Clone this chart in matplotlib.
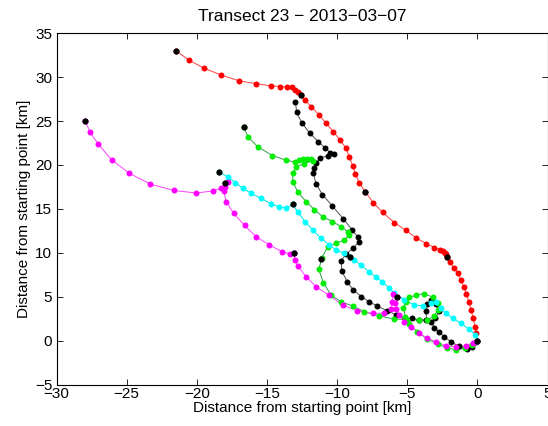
import matplotlib as mpl
import matplotlib.pyplot as plt

mpl.use('Agg')

plt.rcParams['font.family'] = ['Liberation Sans', 'DejaVu Sans']

# trajectories in km from the starting point (far end first)
red_x = [-21.48, -20.58, -19.46, -18.27, -17.01, -15.77, -14.70, -14.04, -13.54, -13.22,
         -12.97, -12.79, -12.57, -12.26, -11.85, -11.31, -10.78, -10.26, -9.79, -9.36,
         -9.12, -8.89, -8.70, -8.41, -8.00, -7.41, -6.75, -5.92, -5.08, -4.35,
         -3.64, -3.06, -2.64, -2.42, -2.32, -2.25, -2.16, -1.92, -1.67, -1.40,
         -1.18, -0.96, -0.78, -0.61, -0.45, -0.29, -0.18, -0.07, 0.0]
red_y = [33.02, 31.96, 31.01, 30.25, 29.60, 29.26, 29.00, 28.94, 28.88, 28.83,
         28.54, 28.26, 27.97, 27.35, 26.64, 25.75, 24.75, 23.79, 22.85, 21.90,
         20.88, 19.94, 18.97, 17.95, 16.96, 15.71, 14.59, 13.45, 12.54, 11.69,
         11.04, 10.60, 10.35, 10.20, 10.03, 9.81, 9.52, 8.90, 8.27, 7.67,
         6.90, 6.10, 5.31, 4.43, 3.49, 2.54, 1.58, 0.81, 0.0]

black_x = [-12.97, -12.88, -12.49, -11.94, -11.33, -10.83, -10.48, -10.19, -10.62, -11.19,
           -11.50, -11.62, -11.69, -11.51, -11.05, -10.33, -9.55, -8.91, -8.52, -8.41,
           -8.87, -9.34, -9.71, -9.66, -9.27, -8.84, -8.27, -7.70, -7.13, -6.41,
           -5.77, -5.13, -4.63, -4.13, -3.64, -3.64, -3.56, -3.28, -2.92, -2.71,
           -2.99, -3.28, -3.06, -2.71, -2.35, -1.85, -1.28, -0.71, -0.36, -0.07, 0.0]
black_y = [27.21, 25.98, 24.75, 23.61, 22.65, 21.90, 21.42, 21.20, 21.08, 20.80,
           20.26, 19.71, 19.12, 17.89, 16.64, 15.33, 13.85, 12.60, 11.80, 11.26,
           10.51, 9.86, 9.12, 7.93, 6.67, 5.76, 5.02, 4.40, 3.94, 3.37,
           2.92, 2.57, 2.52, 2.35, 2.35, 3.37, 4.17, 4.57, 4.17, 3.37,
           2.57, 2.12, 1.44, 0.98, 0.41, -0.16, -0.67, -0.90, -0.73, -0.16, 0.0]

green_x = [-16.66, -16.32, -15.66, -14.61, -13.63, -12.97, -12.69, -12.40, -12.12, -11.83,
           -11.74, -12.33, -12.92, -13.16, -13.16, -12.81, -12.19, -11.62, -11.03, -10.33,
           -9.71, -9.24, -9.12, -9.48, -10.05, -10.67, -11.08, -11.30, -10.98, -10.43,
           -9.71, -8.89, -8.05, -6.98, -5.92, -4.99, -4.13, -3.56, -3.06, -2.82,
           -2.82, -3.14, -3.78, -4.35, -4.85, -5.10, -5.27, -5.13, -4.85, -4.28,
           -3.56, -2.78, -2.14, -1.50, -0.86, -0.36, 0.0]
green_y = [24.29, 23.15, 22.08, 21.08, 20.54, 20.34, 20.57, 20.68, 20.74, 20.74,
           20.46, 20.17, 19.80, 19.05, 18.10, 16.96, 15.79, 14.93, 14.11, 13.56,
           12.97, 12.40, 12.03, 11.46, 11.08, 10.66, 9.46, 8.10, 6.59, 5.19,
           4.43, 3.94, 3.29, 2.80, 2.46, 2.40, 2.35, 2.35, 2.80, 3.49,
           4.23, 4.91, 5.36, 5.19, 4.91, 4.40, 3.71, 2.74, 1.89, 0.98,
           0.18, -0.44, -0.84, -1.07, -0.84, -0.50, 0.0]

cyan_x = [-18.39, -17.80, -17.25, -16.71, -16.13, -15.42, -14.70, -14.11, -13.63, -13.16,
          -12.81, -12.26, -11.74, -11.14, -10.55, -10.07, -9.48, -9.05, -8.77, -8.29,
          -7.70, -7.20, -6.77, -6.27, -5.92, -5.20, -4.49, -3.90, -3.30, -2.92,
          -2.59, -2.23, -1.76, -1.16, -0.57, -0.14, 0.0]
cyan_y = [19.20, 18.67, 17.98, 17.35, 16.78, 16.21, 15.56, 15.25, 15.07, 15.52,
          14.65, 13.51, 12.60, 11.65, 10.89, 10.32, 9.94, 9.56, 9.18, 8.61,
          7.81, 7.24, 6.67, 5.99, 5.39, 4.62, 4.05, 3.97, 4.25, 4.40,
          3.68, 3.11, 2.54, 1.97, 1.29, 0.64, 0.0]

magenta_x = [-27.94, -27.60, -27.01, -26.06, -24.80, -23.33, -21.65, -20.05, -18.87, -18.27,
             -17.96, -17.75, -17.96, -18.07, -17.91, -17.37, -16.59, -15.77, -14.83, -13.92,
             -13.35, -13.09, -12.99, -12.81, -12.21, -11.50, -10.55, -9.60, -8.55, -7.46,
             -6.63, -6.13, -6.06, -5.99, -5.70, -5.84, -5.77, -5.56, -5.20, -4.73,
             -4.13, -3.56, -2.92, -2.21, -1.50, -0.78, -0.33, 0.0]
magenta_y = [25.01, 23.72, 22.36, 20.57, 19.05, 17.84, 17.10, 16.81, 17.04, 17.35,
             17.92, 18.06, 17.55, 17.04, 15.82, 14.50, 13.11, 11.83, 10.89, 10.13,
             9.86, 9.94, 9.18, 8.50, 7.28, 6.14, 5.14, 4.05, 3.37, 3.09,
             3.14, 3.60, 4.45, 5.31, 5.00, 4.28, 3.60, 2.92, 2.15, 1.58,
             0.83, 0.26, -0.16, -0.61, -0.73, -0.56, -0.22, 0.0]

# hourly positions (black dots on the coloured tracks)
hour_x = [-21.48, -12.57, -8.00, -2.16, -16.66, -11.14, -18.39, -13.16, -9.05,
          -27.94, -17.96, -13.09, -5.70, 0.0]
hour_y = [33.02, 27.97, 16.96, 9.52, 24.29, 9.27, 19.20, 15.52, 9.56,
          25.01, 17.92, 9.94, 5.00, 0.0]

fig = plt.figure(figsize=(5.48, 4.26), dpi=100)
ax = fig.add_axes([56.5 / 548, 41.5 / 426, 491 / 548, 351.2 / 426])

tracks = [
    (red_x, red_y, '#ff4040', '#ff0000'),
    (black_x, black_y, '#505050', '#000000'),
    (green_x, green_y, '#2e9e4a', '#00ee00'),
    (cyan_x, cyan_y, '#00e0e0', '#00ffff'),
    (magenta_x, magenta_y, '#ff40ff', '#ff00ff'),
]
for tx, ty, lc, mc in tracks:
    ax.plot(tx, ty, '-', color=lc, lw=0.7, zorder=2)
    ax.plot(tx, ty, 'o', color=mc, ms=4.3, mew=0, zorder=3)

ax.plot(hour_x, hour_y, 'o', color='k', ms=4.5, mew=0, zorder=4)

ax.set_xlim(-30, 5)
ax.set_ylim(-5, 35)
ax.set_xticks(range(-30, 6, 5))
ax.set_yticks(range(-5, 36, 5))
ax.tick_params(direction='in', top=True, right=True, length=4, width=0.6,
               labelsize=11, pad=2)
ax.tick_params(axis='y', pad=3)
for s in ax.spines.values():
    s.set_linewidth(0.8)

ax.set_xlabel('Distance from starting point [km]', fontsize=11, labelpad=0)
ax.set_ylabel('Distance from starting point [km]', fontsize=11, labelpad=3)
ax.set_title('Transect 23 \u2212 2013\u221203\u221207', fontsize=12.5, pad=9)

fig.savefig('out.png', dpi=100)
